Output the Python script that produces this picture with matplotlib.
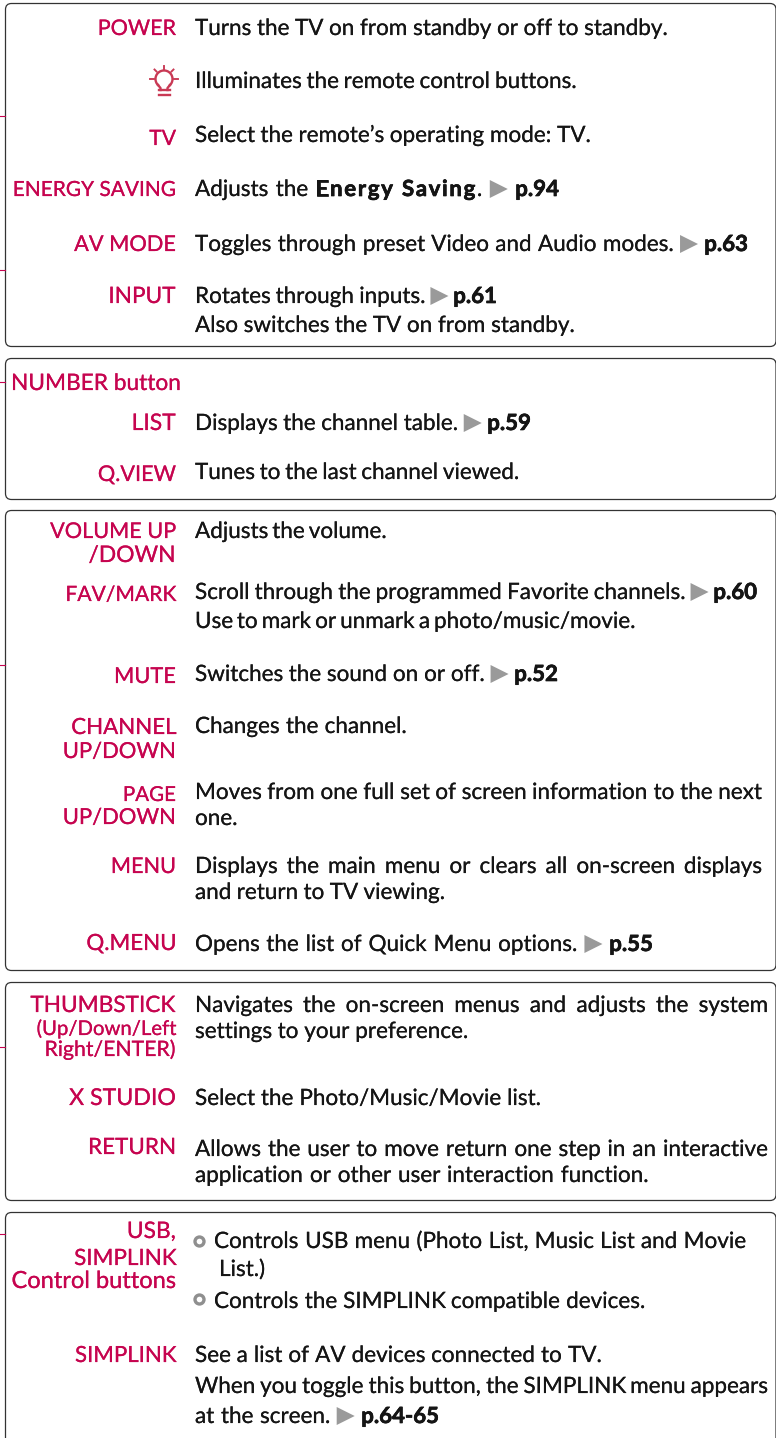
from __future__ import annotations

import re

import matplotlib

matplotlib.use("Agg")
import matplotlib.patheffects as pe
import matplotlib.pyplot as plt
from matplotlib.patches import Arc, FancyBboxPatch, Polygon

FONT = "Lato"
PINK = "#c6044f"
INK = "#151515"
GREY = "#9a9a9a"
BODY_PT = 16.2
BOLD_PT = 16.0
HEAVY = [pe.withStroke(linewidth=0.12, foreground=INK)]
HEAVY_BOLD = [pe.withStroke(linewidth=0.45, foreground="#000000")]
HEAVY_PINK = [pe.withStroke(linewidth=0.15, foreground=PINK)]

# label text, left edge, right edge, baseline
labels = [
    ("POWER", 98, 176, 35), ("TV", 149, 176, 145), ("ENERGY SAVING", 13, 176, 196),
    ("AV MODE", 74, 176, 251), ("INPUT", 109, 176, 303),
    ("NUMBER button", 11, 181, 390), ("LIST", 132, 176, 430), ("Q.VIEW", 98, 176, 481),
    ("VOLUME UP", 50, 176, 538), ("/DOWN", 89, 176, 562), ("FAV/MARK", 65, 176, 601),
    ("MUTE", 114, 176, 683), ("CHANNEL", 71, 176, 734), ("UP/DOWN", 63, 176, 758),
    ("PAGE", 123, 176, 801), ("UP/DOWN", 63, 176, 824), ("MENU", 111, 176, 873),
    ("Q.MENU", 86, 176, 950), ("THUMBSTICK", 31, 176, 1012),
    ("(Up/Down/Left", 36, 176, 1035), ("Right/ENTER)", 45, 176, 1056),
    ("X STUDIO", 69, 176, 1105), ("RETURN", 88, 176, 1154),
    ("USB,", 127, 176, 1238), ("SIMPLINK", 74, 176, 1265), ("Control buttons", 11, 176, 1288),
    ("SIMPLINK", 75, 176, 1362),
]

# text, x, baseline, right edge the line is spaced out to
lines = [
    ("Turns the TV on from standby or off to standby.", 195, 35, 668),
    ("Illuminates the remote control buttons.", 195, 88, 577),
    ("Select the remote’s operating mode: TV.", 195, 142, 591),
    ("Adjusts the [Energy Saving]. ▶ {p.94}", 195, 196, 559),
    ("Toggles through preset Video and Audio modes. ▶ {p.63}", 195, 251, 748),
    ("Rotates through inputs. ▶ {p.61}", 195, 303, 497),
    ("Also switches the TV on from standby.", 195, 332, 575),
    ("Displays the channel table. ▶ {p.59}", 195, 430, 531),
    ("Tunes to the last channel viewed.", 195, 479, 519),
    ("Adjusts the volume.", 195, 538, 387),
    ("Scroll through the programmed Favorite channels. ▶ {p.60}", 195, 599, 757),
    ("Use to mark or unmark a photo/music/movie.", 195, 628, 636),
    ("Switches the sound on or off. ▶ {p.52}", 195, 681, 558),
    ("Changes the channel.", 195, 733, 407),
    ("Moves from one full set of screen information to the next", 195, 799, 762),
    ("one.", 195, 825, 236),
    ("Displays the main menu or clears all on-screen displays", 195, 873, 762),
    ("and return to TV viewing.", 195, 899, 445),
    ("Opens the list of Quick Menu options. ▶ {p.55}", 195, 951, 653),
    ("Navigates the on-screen menus and adjusts the system", 195, 1012, 768),
    ("settings to your preference.", 195, 1038, 468),
    ("Select the Photo/Music/Movie list.", 195, 1105, 541),
    ("Allows the user to move return one step in an interactive", 195, 1156, 768),
    ("application or other user interaction function.", 195, 1182, 649),
    ("Controls USB menu (Photo List, Music List and Movie", 214, 1248, 746),
    ("List.)", 219, 1276, 266),
    ("Controls the SIMPLINK compatible devices.", 214, 1308, 645),
    ("See a list of AV devices connected to TV.", 195, 1362, 602),
    ("When you toggle this button, the SIMPLINK menu appears", 195, 1393, 768),
    ("at the screen. ▶ {p.64-65}", 195, 1423, 439),
]

boxes = [(3, 346), (358, 499), (510, 970), (982, 1200), (1212, 1460)]
stubs = [116, 270, 382, 665, 1047, 1234]
bullets = [(199, 1241), (199, 1299)]


def measure(ax, text, pt, weight):
    t = ax.text(0, 0, text, fontsize=pt, family=FONT, fontweight=weight)
    width = t.get_window_extent(ax.figure.canvas.get_renderer()).width
    t.remove()
    return width


def split_line(text):
    # pieces of (word or space, kind)
    parts = []
    for chunk in re.split(r"(\{.*?\}|\[.*?\]|▶)", text):
        if not chunk:
            continue
        if chunk == "▶":
            parts.append((chunk, "arrow"))
            continue
        kind = {"{": "bold", "[": "wide"}.get(chunk[0], "normal")
        for word in re.findall(r"\s+|\S+", chunk.strip("{}[]")):
            parts.append((word, "space" if word.isspace() else kind))
    return parts


def draw_line(ax, text, x, y, right):
    parts = split_line(text)
    space = measure(ax, "n n", BODY_PT, "normal") - measure(ax, "nn", BODY_PT, "normal")
    track = 1.6
    widths = []
    for word, kind in parts:
        if kind == "arrow":
            widths.append(18)
        elif kind == "space":
            widths.append(space)
        elif kind == "bold":
            widths.append(measure(ax, word, BOLD_PT, "bold"))
        elif kind == "wide":
            widths.append(measure(ax, word, BOLD_PT, "bold") + track * len(word))
        else:
            widths.append(measure(ax, word, BODY_PT, "normal"))
    n_space = sum(1 for _, k in parts if k == "space")
    extra = (right - x - sum(widths)) / n_space if n_space else 0
    pos = x
    for (word, kind), w in zip(parts, widths):
        if kind == "arrow":
            ax.add_patch(Polygon([(pos, y - 16), (pos + w, y - 7), (pos, y + 2)], color=GREY, lw=0))
        elif kind == "space":
            w += extra
        elif kind == "bold":
            ax.text(pos, y, word, fontsize=BOLD_PT, family=FONT, fontweight="bold", color=INK, va="baseline",
                    path_effects=HEAVY_BOLD)
        elif kind == "wide":
            cx = pos
            for i, ch in enumerate(word):
                ax.text(cx, y, ch, fontsize=BOLD_PT, family=FONT, fontweight="bold", color=INK, va="baseline",
                        path_effects=HEAVY_BOLD)
                cx = pos + measure(ax, word[: i + 1], BOLD_PT, "bold") + track * (i + 1)
        else:
            ax.text(pos, y, word, fontsize=BODY_PT, family=FONT, color=INK, va="baseline", path_effects=HEAVY)
        pos += w


def draw_label(ax, text, left, right, y):
    # size each label to the width it has in the reference
    pt = 16.0 * (right - left) / measure(ax, text, 16.0, "normal")
    ax.text(right, y, text, fontsize=pt, family=FONT, color=PINK, ha="right", va="baseline", path_effects=HEAVY_PINK)


def draw_bulb(ax, cx, cy):
    color = "#c93a55"
    lw = 1.7
    ax.add_patch(Arc((cx, cy), 17, 17, theta1=125, theta2=415, color=color, lw=lw))
    ax.plot([cx - 6, cx - 3.5, cx - 3.5], [cy + 6, cy + 9, cy + 11], color=color, lw=lw)
    ax.plot([cx + 6, cx + 3.5, cx + 3.5], [cy + 6, cy + 9, cy + 11], color=color, lw=lw)
    ax.plot([cx - 5.5, cx + 5.5], [cy + 11, cy + 11], color=color, lw=lw)
    ax.plot([cx - 5.5, cx + 5.5], [cy + 16, cy + 16], color=color, lw=lw)
    for dx0, dy0, dx1, dy1 in [(-14, 0, -10, 0), (10, 0, 14, 0), (0, -13, 0, -9.5),
                               (-9.5, -9.5, -7.5, -7.5), (9.5, -9.5, 7.5, -7.5)]:
        ax.plot([cx + dx0, cx + dx1], [cy + dy0, cy + dy1], color=color, lw=lw * 0.8)


def main():
    fig = plt.figure(figsize=(7.76, 14.38), dpi=100)
    ax = fig.add_axes([0, 0, 1, 1])
    ax.set_xlim(0, 776)
    ax.set_ylim(1438, 0)
    ax.axis("off")

    for top, bottom in boxes:
        ax.add_patch(FancyBboxPatch((5.5, top + 0.5), 770.5, bottom - top, boxstyle="round,pad=0,rounding_size=6",
                                    fc="white", ec="#333333", lw=0.9))
    for y in stubs:
        ax.plot([0, 5], [y, y], color=PINK, lw=0.8)

    for text, left, right, y in labels:
        draw_label(ax, text, left, right, y)

    draw_bulb(ax, 164, 79)

    for text, x, y, right in lines:
        draw_line(ax, text, x, y, right)

    bx, by = zip(*bullets)
    ax.scatter(bx, by, s=42, facecolor="white", edgecolor="#8f8f8f", linewidth=2.4, zorder=3)

    fig.savefig("out.png", dpi=100)
    plt.close(fig)


if __name__ == "__main__":
    main()
